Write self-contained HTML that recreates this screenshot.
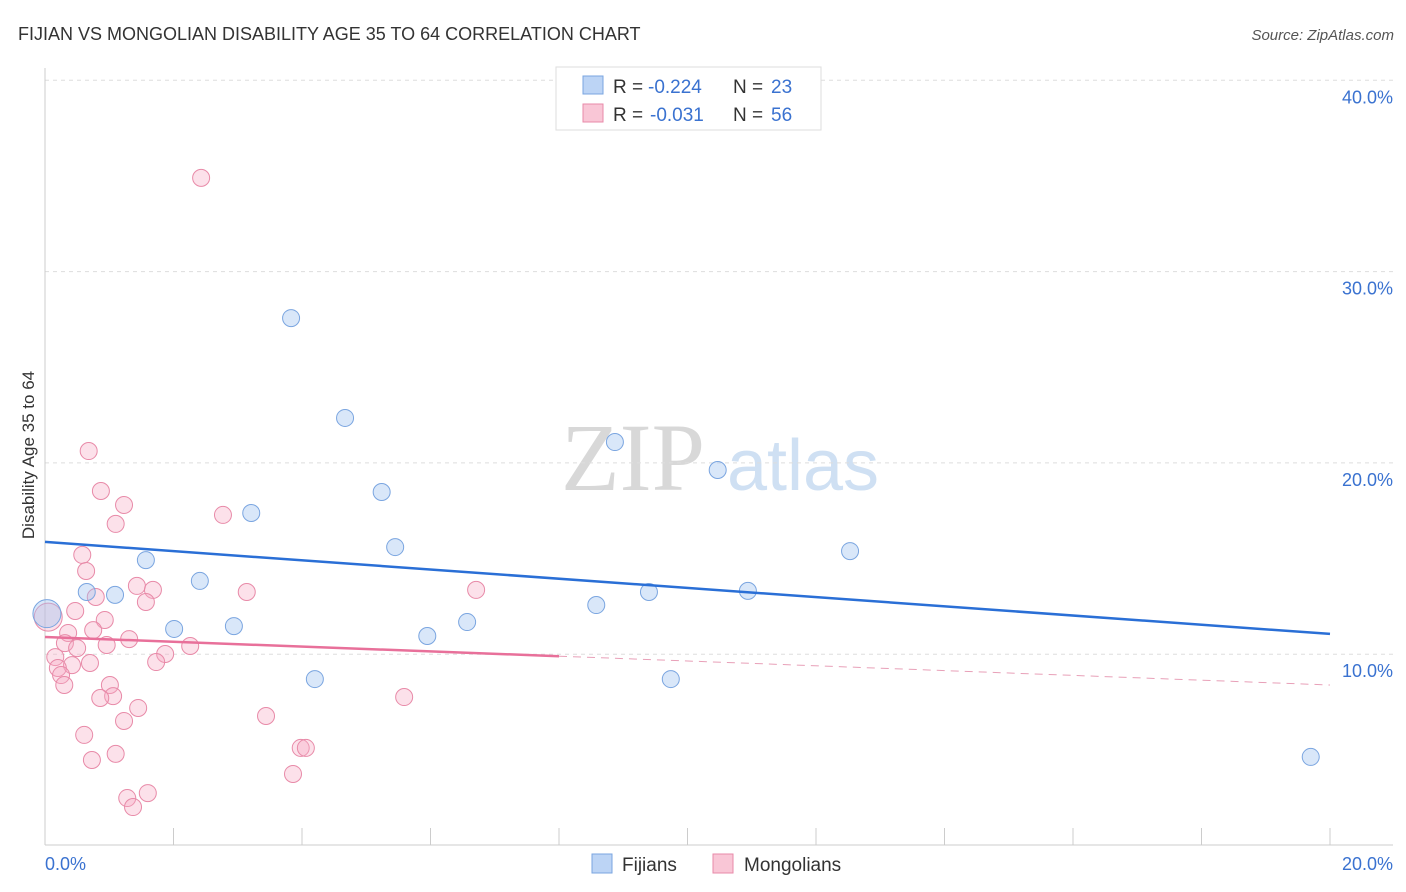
<!DOCTYPE html>
<html><head><meta charset="utf-8"><style>
body{margin:0;background:#fff;font-family:"Liberation Sans",sans-serif;}
svg{display:block}
</style></head><body>
<svg id="chart" width="1406" height="892">
<text x="18" y="40" font-size="18" fill="#333">FIJIAN VS MONGOLIAN DISABILITY AGE 35 TO 64 CORRELATION CHART</text>
<text x="1394" y="40" font-size="15" fill="#555" font-style="italic" text-anchor="end">Source: ZipAtlas.com</text>
<g>
<text x="633" y="490" font-size="96" fill="#d8d8d8" font-family="Liberation Serif" text-anchor="middle">ZIP</text>
<text x="803" y="490" font-size="72" fill="#cfe0f3" text-anchor="middle">atlas</text>
</g>
<g id="grid"></g>
<g id="axes"></g>
<g id="marks"></g>
<text transform="translate(34,455) rotate(-90)" font-size="17" fill="#333" text-anchor="middle">Disability Age 35 to 64</text>
<g>
<rect x="556" y="67" width="265" height="63" fill="#fff" stroke="#ddd"/>
<rect x="583" y="76" width="20" height="18" fill="#bcd4f5" stroke="#7aa5e0"/>
<rect x="583" y="104" width="20" height="18" fill="#f9c6d6" stroke="#e88aa8"/>
<text x="613" y="93" font-size="19" fill="#333">R =</text>
<text x="648" y="93" font-size="19" fill="#3a72d0">-0.224</text>
<text x="733" y="93" font-size="19" fill="#333">N =</text>
<text x="771" y="93" font-size="19" fill="#3a72d0">23</text>
<text x="613" y="121" font-size="19" fill="#333">R =</text>
<text x="650" y="121" font-size="19" fill="#3a72d0">-0.031</text>
<text x="733" y="121" font-size="19" fill="#333">N =</text>
<text x="771" y="121" font-size="19" fill="#3a72d0">56</text>
</g>
<g>
<rect x="592" y="854" width="20" height="19" fill="#bcd4f5" stroke="#7aa5e0"/>
<text x="622" y="871" font-size="19" fill="#333">Fijians</text>
<rect x="713" y="854" width="20" height="19" fill="#f9c6d6" stroke="#e88aa8"/>
<text x="744" y="871" font-size="19" fill="#333">Mongolians</text>
</g>
</svg>
<script>
const yTicks=[10,20,30,40];
const yTickLabels=["10.0%","20.0%","30.0%","40.0%"];
const xTickLabels=["0.0%","20.0%"];
const fijX=[3.83,4.67,5.24,8.87,10.47,3.21,5.45,12.53,1.57,2.41,1.09,0.65,8.58,9.40,10.94,2.01,2.94,6.57,5.95,4.20,9.74,19.70,0.03];
const fijY=[27.57,22.35,18.48,21.09,19.63,17.38,15.60,15.39,14.92,13.83,13.10,13.25,12.57,13.25,13.31,11.32,11.47,11.68,10.95,8.70,8.70,4.63,12.12];
const monX=[2.43,0.68,0.87,1.23,2.77,1.10,0.58,0.64,1.43,1.68,3.14,6.71,0.79,1.57,0.47,0.93,0.75,0.36,1.31,0.31,0.96,2.26,0.50,1.87,0.16,1.73,0.70,0.42,0.20,0.25,0.30,1.01,1.06,0.86,5.59,1.45,3.44,1.23,0.61,1.10,0.73,3.98,4.06,3.86,1.60,1.28,1.37,0.05];
const monY=[34.9,20.62,18.53,17.80,17.28,16.81,15.19,14.35,13.57,13.36,13.25,13.36,12.99,12.73,12.26,11.79,11.26,11.11,10.79,10.58,10.48,10.43,10.32,10.01,9.85,9.59,9.54,9.43,9.28,8.91,8.39,8.39,7.81,7.71,7.76,7.19,6.77,6.51,5.78,4.79,4.47,5.10,5.10,3.74,2.74,2.48,2.01,11.94];
const fijTrend=[15.87,11.06];
const monTrend=[10.90,8.39];
const monSolidEnd=8;
const NS="http://www.w3.org/2000/svg";
const sx=v=>45+v/20*1285, sy=v=>845.5-v*19.13;
function mk(t,a,p){const e=document.createElementNS(NS,t);for(const k in a)e.setAttribute(k,a[k]);p.appendChild(e);return e;}
const grid=document.getElementById('grid'),axes=document.getElementById('axes'),marks=document.getElementById('marks');
yTicks.forEach((t,i)=>{
 const l=mk('line',{x1:45,x2:1393,y1:sy(t),y2:sy(t),stroke:'#ddd','stroke-dasharray':'4,4'},grid);
 
 
 const tx=mk('text',{x:1393,y:sy(t)+23,'font-size':18,fill:'#3a72d0','text-anchor':'end'},axes);
 tx.textContent=yTickLabels[i];
 
 
});
mk('line',{x1:45,x2:45,y1:68,y2:845,stroke:'#ccc'},axes);
mk('line',{x1:45,x2:1393,y1:845,y2:845,stroke:'#ccc'},axes);
for(let i=0;i<=10;i++){mk('line',{x1:sx(i*2),x2:sx(i*2),y1:828,y2:845,stroke:'#ccc'},axes);}
const xl0=mk('text',{x:45,y:870,'font-size':18,fill:'#3a72d0'},axes);xl0.textContent=xTickLabels[0];


const xl1=mk('text',{x:1393,y:870,'font-size':18,fill:'#3a72d0','text-anchor':'end'},axes);xl1.textContent=xTickLabels[1];


monX.forEach((x,i)=>{
 const big=i===monX.length-1;
 const c=mk('circle',{cx:sx(x),cy:sy(monY[i]),r:big?14:8.5,fill:'rgba(245,170,195,0.35)',stroke:'#e88aa8','stroke-width':1},marks);
 
 
});
fijX.forEach((x,i)=>{
 const big=i===fijX.length-1;
 const c=mk('circle',{cx:sx(x),cy:sy(fijY[i]),r:big?14:8.5,fill:'rgba(160,195,240,0.4)',stroke:'#7aa5e0','stroke-width':1},marks);
 
 
});
const fl=mk('line',{x1:sx(0),y1:sy(fijTrend[0]),x2:sx(20),y2:sy(fijTrend[1]),stroke:'#2a6fd6','stroke-width':2.5},marks);


const my=x=>monTrend[0]+(monTrend[1]-monTrend[0])*x/20;
const ml=mk('line',{x1:sx(0),y1:sy(my(0)),x2:sx(monSolidEnd),y2:sy(my(monSolidEnd)),stroke:'#e8709a','stroke-width':2.5},marks);


const md=mk('line',{x1:sx(monSolidEnd),y1:sy(my(monSolidEnd)),x2:sx(20),y2:sy(my(20)),stroke:'#e8a0b8','stroke-width':1,'stroke-dasharray':'8,6'},marks);


</script>
</body></html>
